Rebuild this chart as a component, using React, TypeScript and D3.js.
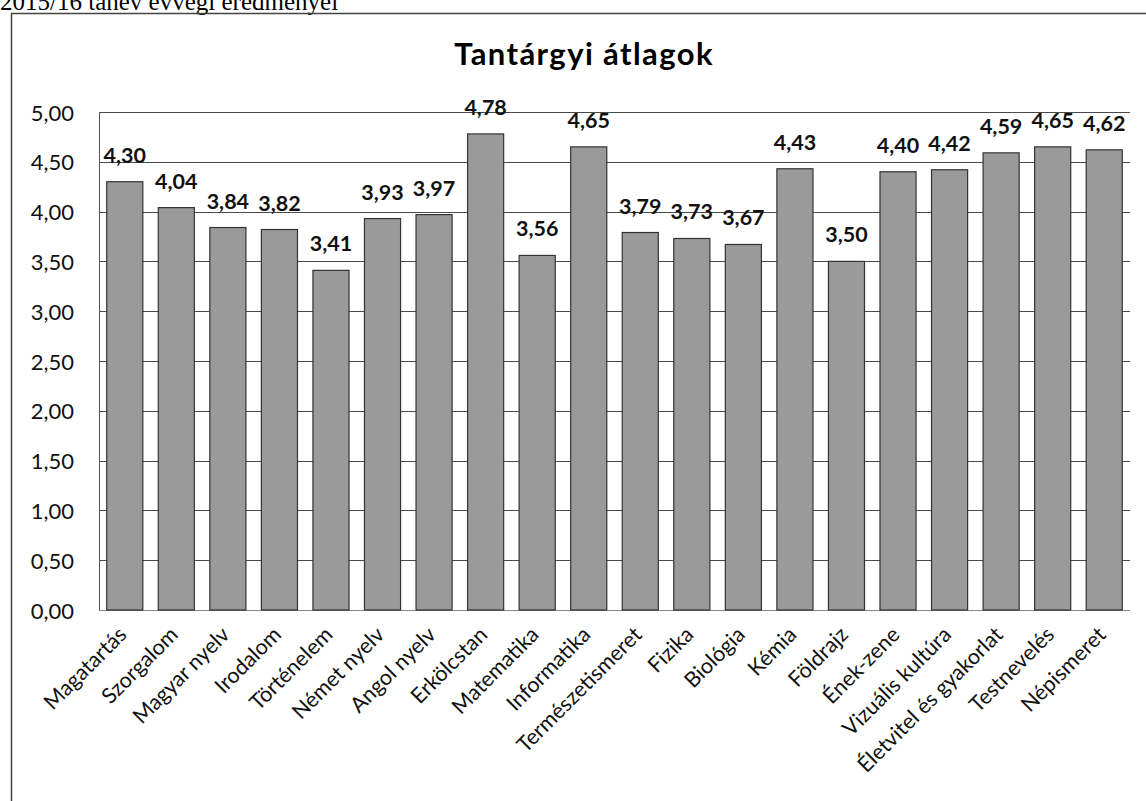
import React, { useEffect, useRef } from "react";
import * as d3 from "d3";

// subject names and yearly averages, 2015/16
const subjects = [
  "Magatartás", "Szorgalom", "Magyar nyelv", "Irodalom", "Történelem",
  "Német nyelv", "Angol nyelv", "Erkölcstan", "Matematika", "Informatika",
  "Természetismeret", "Fizika", "Biológia", "Kémia", "Földrajz",
  "Ének-zene", "Vizuális kultúra", "Életvitel és gyakorlat", "Testnevelés", "Népismeret",
];
const averages = [
  4.30, 4.04, 3.84, 3.82, 3.41, 3.93, 3.97, 4.78, 3.56, 4.65,
  3.79, 3.73, 3.67, 4.43, 3.50, 4.40, 4.42, 4.59, 4.65, 4.62,
];
const yTicks = [0, 0.5, 1, 1.5, 2, 2.5, 3, 3.5, 4, 4.5, 5];

const fmt = (v: number) => v.toFixed(2).replace(".", ",");
const FONT = "Lato, 'Open Sans', sans-serif";

export default function App() {
  const ref = useRef<SVGSVGElement>(null);

  useEffect(() => {
    const svg = d3.select(ref.current);
    svg.selectAll("*").remove();

    const left = 99, right = 1130, top = 112, bottom = 610;

    const x = d3.scaleBand<string>().domain(subjects).range([left, right]).paddingInner(0.3).paddingOuter(0.15);
    const y = d3.scaleLinear().domain([0, 5]).range([bottom, top]);

    // page heading, cut off at the top of the scan
    svg.append("text")
      .attr("x", 0).attr("y", 10)
      .attr("font-family", "'Liberation Serif', 'Times New Roman', serif")
      .attr("font-size", 25)
      .text("2015/16 tanév évvégi eredményei");

    // chart frame
    svg.append("rect")
      .attr("x", 11.5).attr("y", 13.5)
      .attr("width", 1200).attr("height", 900)
      .attr("fill", "none").attr("stroke", "#444").attr("stroke-width", 1.5);

    svg.append("text")
      .attr("x", 584).attr("y", 65)
      .attr("text-anchor", "middle")
      .attr("font-family", FONT).attr("font-weight", "bold")
      .attr("font-size", 31).attr("letter-spacing", 1.4)
      .text("Tantárgyi átlagok");

    // gridlines
    svg.append("g").selectAll("line")
      .data(yTicks)
      .join("line")
      .attr("x1", left).attr("x2", right)
      .attr("y1", d => Math.round(y(d)) + 0.5).attr("y2", d => Math.round(y(d)) + 0.5)
      .attr("stroke", d => d === 0 ? "#888" : "#4a4a4a").attr("stroke-width", 1);

    svg.append("line")
      .attr("x1", left + 0.5).attr("x2", left + 0.5)
      .attr("y1", top).attr("y2", bottom)
      .attr("stroke", "#555");

    // y axis labels
    svg.append("g").selectAll("text")
      .data(yTicks)
      .join("text")
      .attr("x", 74).attr("y", d => y(d) + 8.5)
      .attr("text-anchor", "end")
      .attr("font-family", FONT).attr("font-size", 22)
      .attr("fill", "#111")
      .text(d => fmt(d));

    // bars
    svg.append("g").selectAll("rect")
      .data(averages)
      .join("rect")
      .attr("x", (d, i) => x(subjects[i])!)
      .attr("y", d => y(d))
      .attr("width", x.bandwidth())
      .attr("height", d => bottom - y(d))
      .attr("fill", "#9a9a9a")
      .attr("stroke", "#333").attr("stroke-width", 1.2);

    // value labels
    svg.append("g").selectAll("text")
      .data(averages)
      .join("text")
      .attr("x", (d, i) => x(subjects[i])! + x.bandwidth() / 2)
      .attr("y", d => y(d) - 19)
      .attr("text-anchor", "middle")
      .attr("font-family", FONT).attr("font-weight", "bold")
      .attr("font-size", 21.5)
      .attr("fill", "#111")
      .text(d => fmt(d));

    // category labels, rotated
    svg.append("g").selectAll("text")
      .data(subjects)
      .join("text")
      .attr("transform", d => `translate(${x(d)! + x.bandwidth() / 2 + 3}, ${bottom + 26}) rotate(-45)`)
      .attr("text-anchor", "end")
      .attr("font-family", FONT).attr("font-size", 21.5)
      .attr("fill", "#111")
      .text(d => d);
  }, []);

  return (
    <svg ref={ref} width={1146} height={801}
      style={{ position: "absolute", left: 0, top: 0, background: "#fff" }} />
  );
}
